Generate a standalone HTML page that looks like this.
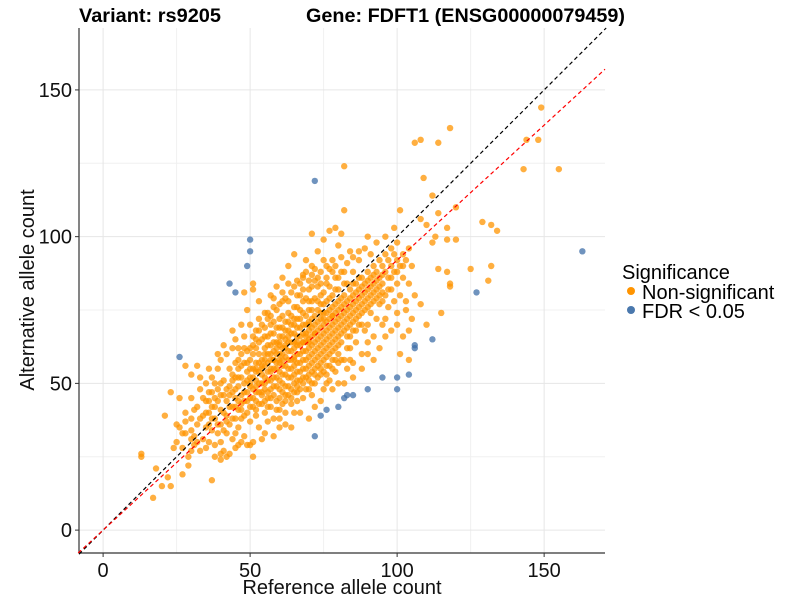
<!DOCTYPE html>
<html><head><meta charset="utf-8"><style>
body{margin:0;background:#fff;font-family:"Liberation Sans",Arial,sans-serif}
svg text{font-family:"Liberation Sans",Arial,sans-serif}
</style></head><body>
<svg id="chart" width="800" height="600">
<g id="grid"></g>
<g id="lines"></g>
<g id="pts"></g>
<g id="axes"></g>
<text x="79" y="22" font-size="19" font-weight="bold" textLength="142" lengthAdjust="spacingAndGlyphs">Variant: rs9205</text>
<text x="306" y="22" font-size="19" font-weight="bold" textLength="319" lengthAdjust="spacingAndGlyphs">Gene: FDFT1 (ENSG00000079459)</text>
<text x="342" y="594" font-size="20" text-anchor="middle" fill="#111">Reference allele count</text>
<text transform="translate(34,290) rotate(-90)" font-size="20" text-anchor="middle" fill="#111">Alternative allele count</text>
<g>
<text x="622" y="279" font-size="20">Significance</text>
<circle cx="631" cy="291" r="4" fill="#FF9400"/>
<text x="642" y="299" font-size="20">Non-significant</text>
<circle cx="631" cy="310" r="4" fill="#4A78AD"/>
<text x="642" y="318" font-size="20">FDR &lt; 0.05</text>
</g>
</svg>
<script>
const xTicks=[0,50,100,150];
const yTicks=[0,50,100,150];
const minorTicks=[25,75,125];
const redSlope=[0.92];
const bluePoints=[[163,95],[127,81],[112,65],[106,63],[106,62],[104,53],[100,52],[100,48],[95,52],[90,48],[85,46],[83,46],[82,45],[80,42],[76,41],[74,39],[72,32],[26,59],[45,81],[43,84],[49,90],[50,95],[50,99],[72,119]];
const orangeOutliers=[[149,144],[118,137],[106,132],[108,133],[114,132],[144,133],[148,133],[143,123],[155,123],[82,124],[109,120],[112,114],[82,109],[101,109],[114,108],[120,110],[129,105],[132,104],[134,102],[117,103],[108,106],[110,104],[113,100],[112,98],[117,99],[120,99],[125,89],[132,90],[131,85],[114,89],[117,88],[118,84],[118,83],[115,74],[110,70],[108,77],[104,68],[71,101],[77,102],[79,103],[81,101],[75,99],[65,94],[51,84],[51,82],[48,81],[23,47],[21,39],[28,56],[32,56],[30,53],[37,17],[17,11],[20,15],[23,15],[40,24],[42,25],[51,25],[49,29],[13,26],[13,25],[22,18],[18,21]];
const orangeCore=[[25,30],[26,35],[27,28],[28,40],[28,33],[29,25],[30,38],[30,45],[31,32],[31,29],[32,42],[32,36],[33,27],[33,48],[34,39],[34,31],[35,44],[35,35],[35,50],[29,22],[27,19],[24,28],[26,45],[33,52],[30,27],
[36,40],[36,30],[36,47],[37,34],[37,52],[37,42],[38,29],[38,45],[38,38],[39,55],[39,33],[39,48],[40,41],[40,36],[40,58],[40,30],[41,46],[41,51],[41,27],[42,39],[42,44],[42,60],[42,33],[43,49],[43,36],[43,55],[44,42],[44,31],[44,62],[44,47],[45,38],[45,52],[45,45],[45,57],[45,28],[38,25],[43,26],[41,63],[39,60],[36,55],[45,65],[44,68],
[46,49],[46,41],[46,55],[46,35],[47,60],[47,46],[47,52],[47,38],[48,44],[48,57],[48,50],[48,32],[48,66],[49,47],[49,54],[49,40],[49,61],[50,52],[50,45],[50,58],[50,37],[50,70],[50,49],[51,55],[51,42],[51,63],[51,48],[51,30],[52,51],[52,57],[52,44],[52,68],[52,39],[53,54],[53,47],[53,60],[53,72],[53,35],[54,50],[54,58],[54,43],[54,65],[54,53],[55,48],[55,56],[55,62],[55,40],[55,74],[55,52],[55,33],[47,70],[49,75],[53,78],[46,29],[50,29],[54,31],[52,62],[48,62],[46,62],
[56,54],[56,60],[56,47],[56,66],[56,42],[57,58],[57,51],[57,63],[57,70],[57,45],[58,55],[58,61],[58,49],[58,67],[58,38],[58,76],[59,57],[59,52],[59,64],[59,44],[60,60],[60,54],[60,66],[60,48],[60,72],[60,41],[60,58],[61,56],[61,62],[61,50],[61,69],[61,78],[62,59],[62,53],[62,65],[62,46],[62,71],[62,36],[63,61],[63,55],[63,68],[63,49],[63,74],[63,84],[64,58],[64,64],[64,52],[64,70],[64,43],[65,62],[65,56],[65,67],[65,50],[65,76],[65,40],[65,59],[57,80],[59,83],[61,86],[63,90],[56,72],[58,32],[60,35],[64,35],[62,40],
[66,60],[66,66],[66,54],[66,72],[66,47],[67,63],[67,57],[67,69],[67,80],[67,51],[68,61],[68,67],[68,55],[68,74],[68,45],[68,87],[69,64],[69,58],[69,70],[69,52],[70,62],[70,68],[70,56],[70,75],[70,48],[70,82],[70,65],[71,60],[71,66],[71,72],[71,54],[71,90],[72,64],[72,58],[72,70],[72,79],[72,50],[72,42],[73,62],[73,68],[73,56],[73,75],[73,86],[74,66],[74,60],[74,72],[74,53],[74,80],[75,64],[75,70],[75,58],[75,77],[75,48],[75,92],[66,85],[69,92],[73,95],[67,40],[70,38],[74,44],[71,78],[68,78],
[76,68],[76,62],[76,74],[76,56],[76,84],[77,66],[77,72],[77,60],[77,79],[77,51],[78,70],[78,64],[78,76],[78,58],[78,88],[79,68],[79,74],[79,62],[79,82],[79,54],[80,72],[80,66],[80,78],[80,60],[80,86],[80,50],[81,70],[81,76],[81,64],[81,93],[82,74],[82,68],[82,80],[82,58],[82,88],[83,72],[83,78],[83,66],[83,84],[83,55],[84,76],[84,70],[84,82],[84,62],[84,95],[85,74],[85,80],[85,68],[85,88],[85,57],[78,48],[82,50],[85,52],[80,97],[76,90],
[86,78],[86,72],[86,84],[86,64],[87,76],[87,82],[87,70],[87,92],[88,80],[88,74],[88,86],[88,60],[89,78],[89,84],[89,68],[89,96],[90,82],[90,76],[90,88],[90,64],[90,70],[91,80],[91,86],[91,74],[91,94],[92,84],[92,78],[92,90],[92,66],[93,82],[93,88],[93,72],[93,98],[94,86],[94,80],[94,92],[94,62],[95,84],[95,78],[95,90],[95,70],[88,55],[92,58],[90,100],
[96,88],[96,80],[96,94],[96,72],[97,86],[97,92],[97,76],[98,90],[98,82],[98,96],[98,68],[99,88],[99,94],[99,78],[100,92],[100,84],[100,98],[100,74],[101,90],[101,80],[102,94],[102,86],[102,66],[103,92],[103,78],[104,96],[104,84],[105,90],[105,72],[96,100],[99,103],[101,60],[104,58],
[55,60],[60,63],[65,70],[70,70],[75,72],[58,58],[62,62],[66,64],[52,55],[57,54],[61,58],[68,64],[72,67],[74,74],[78,73],[63,66],[67,72],[54,56],[59,60],[69,66]];
const orangeDense=[[44,53],[46,58],[47,43],[49,51],[50,55],[51,60],[52,47],[53,50],[53,64],[54,46],[55,58],[55,66],[56,51],[56,63],[57,48],[57,60],[57,67],[58,52],[58,64],[58,71],[59,49],[59,55],[59,62],[59,69],[60,51],[60,57],[60,64],[60,69],[61,53],[61,60],[61,66],[61,73],[62,49],[62,56],[62,63],[62,68],[63,52],[63,58],[63,64],[63,71],[64,55],[64,61],[64,67],[64,73],[64,48],[65,53],[65,58],[65,64],[65,72],[66,51],[66,57],[66,63],[66,69],[66,76],[67,54],[67,60],[67,66],[67,75],[68,52],[68,58],[68,64],[68,70],[68,82],[69,55],[69,61],[69,67],[69,73],[69,79],[70,53],[70,59],[70,64],[70,71],[70,78],[71,57],[71,63],[71,69],[71,75],[71,83],[72,55],[72,61],[72,67],[72,73],[72,85],[73,59],[73,65],[73,71],[73,78],[74,57],[74,63],[74,69],[74,77],[74,84],[75,61],[75,67],[75,74],[75,81],[76,59],[76,65],[76,71],[76,78],[77,63],[77,69],[77,75],[77,83],[78,61],[78,67],[78,73],[78,80],[79,65],[79,71],[79,77],[79,86],[80,63],[80,69],[80,75],[80,82],[81,67],[81,73],[81,79],[81,58],[82,71],[82,77],[82,84],[83,69],[83,75],[83,62],[84,73],[84,79],[84,66],[85,71],[85,77],[85,84],[86,75],[86,81],[86,68],[87,73],[87,79],[87,86],[88,77],[88,83],[88,70],[89,75],[89,81],[90,79],[90,85],[91,77],[91,83],[92,81],[92,87],[93,79],[93,85],[94,77],[94,83],[95,81],[95,87],[97,82],[98,86],[100,88],[102,90]];
const orangeLower=[[36,44],[37,38],[38,42],[39,36],[40,46],[41,40],[41,34],[42,48],[42,37],[43,42],[43,46],[44,38],[44,51],[45,42],[45,48],[46,44],[46,52],[47,41],[47,56],[48,47],[48,39],[49,44],[49,57],[50,42],[50,50],[51,45],[51,52],[52,41],[52,49],[52,54],[53,43],[53,57],[54,47],[54,55],[55,44],[55,50],[56,45],[56,57],[57,42],[57,55],[58,46],[58,58],[59,41],[60,45],[61,47],[61,43],[62,44],[63,46],[64,45],[65,47],[66,49],[67,48],[68,50],[69,48],[70,51],[71,50],[72,53],[73,52],[74,55],[75,54],[76,53],[77,56],[78,55],[79,58],[80,57]];
const orangeUpper=[[50,62],[51,66],[52,65],[53,68],[54,70],[55,69],[56,74],[57,73],[58,79],[59,75],[60,77],[61,81],[62,79],[63,78],[64,81],[65,83],[66,80],[67,84],[68,86],[69,88],[70,85],[71,87],[72,89],[73,83],[74,88],[76,86],[77,89],[78,92],[79,90],[81,88],[83,91],[85,93],[87,95]];
const orangeSparse=[[28,37],[30,34],[31,41],[32,30],[33,38],[34,45],[35,40],[36,36],[37,47],[38,50],[39,44],[40,50],[30,31],[27,33],[25,36],[35,28],[40,26],[45,33],[47,30],[56,37],[60,38],[66,44],[71,46],[76,50],[84,58],[90,60],[96,66],[100,70],[103,75],[106,80]];

const X0=79,X1=605,Y0=553,Y1=28,XMIN=-8.2,XMAX=170.7,YMIN=-7.8,YMAX=171.1;
const sx=v=>X0+(v-XMIN)/(XMAX-XMIN)*(X1-X0);
const sy=v=>Y0-(v-YMIN)/(YMAX-YMIN)*(Y0-Y1);
const NS="http://www.w3.org/2000/svg";
function mk(tag,attrs,parent){const e=document.createElementNS(NS,tag);for(const k in attrs)e.setAttribute(k,attrs[k]);parent.appendChild(e);return e;}
const grid=document.getElementById('grid'),lines=document.getElementById('lines'),pts=document.getElementById('pts'),axes=document.getElementById('axes');
minorTicks.forEach(t=>{
  let a=mk('line',{x1:sx(t),x2:sx(t),y1:Y1,y2:Y0,stroke:'#f0f0f0','stroke-width':1},grid);
  
  
  let b=mk('line',{x1:X0,x2:X1,y1:sy(t),y2:sy(t),stroke:'#f0f0f0','stroke-width':1},grid);
  
  
});
xTicks.forEach(t=>{
  let g=mk('line',{x1:sx(t),x2:sx(t),y1:Y1,y2:Y0,stroke:'#e6e6e6','stroke-width':1},grid);
  
  
  let tk=mk('line',{x1:sx(t),x2:sx(t),y1:Y0,y2:Y0+4,stroke:'#333','stroke-width':1},axes);
  
  
  let lb=mk('text',{x:sx(t),y:Y0+24,'font-size':20,'text-anchor':'middle',fill:'#111'},axes);
  lb.textContent=t;
  
  
});
yTicks.forEach(t=>{
  let g=mk('line',{x1:X0,x2:X1,y1:sy(t),y2:sy(t),stroke:'#e6e6e6','stroke-width':1},grid);
  
  
  let tk=mk('line',{x1:X0-4,x2:X0,y1:sy(t),y2:sy(t),stroke:'#333','stroke-width':1},axes);
  
  
  let lb=mk('text',{x:X0-7,y:sy(t)+7,'font-size':20,'text-anchor':'end',fill:'#111'},axes);
  lb.textContent=t;
  
  
});
const ax1=mk('line',{x1:X0,x2:X0,y1:Y1,y2:Y0,stroke:'#333','stroke-width':1.2},axes);


const ax2=mk('line',{x1:X0,x2:X1,y1:Y0,y2:Y0,stroke:'#333','stroke-width':1.2},axes);


function drawPts(arr,color,name){arr.forEach(p=>{
  const c=mk('circle',{cx:sx(p[0]),cy:sy(p[1]),r:3.2,fill:color,'fill-opacity':0.75},pts);
  
  
});}
drawPts(orangeCore,'#FF9400','point-nonsignificant');
drawPts(orangeDense,'#FF9400','point-nonsignificant');
drawPts(orangeLower,'#FF9400','point-nonsignificant');
drawPts(orangeUpper,'#FF9400','point-nonsignificant');
drawPts(orangeSparse,'#FF9400','point-nonsignificant');
drawPts(orangeOutliers,'#FF9400','point-nonsignificant');
drawPts(bluePoints,'#3F6FA8','point-fdr');
const idl=mk('line',{x1:sx(XMIN),y1:sy(XMIN),x2:sx(YMAX),y2:sy(YMAX),stroke:'#000','stroke-width':1.2,'stroke-dasharray':'4,3'},lines);


const s=redSlope[0];
const rl=mk('line',{x1:sx(YMIN/s),y1:sy(YMIN),x2:sx(XMAX),y2:sy(XMAX*s),stroke:'#FF0000','stroke-width':1.2,'stroke-dasharray':'4,3'},lines);


document.getElementById('chart').appendChild(lines);
</script>
</body></html>
